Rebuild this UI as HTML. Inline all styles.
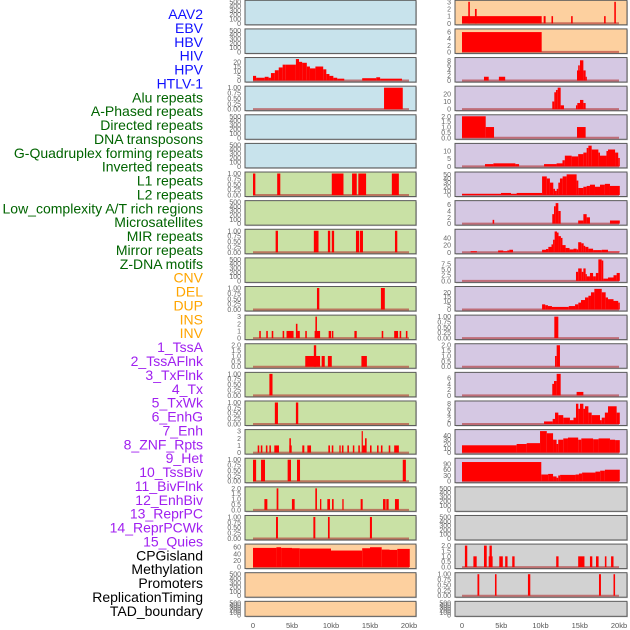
<!DOCTYPE html>
<html><head><meta charset="utf-8"><style>
body{margin:0;background:#fff;width:630px;height:630px;overflow:hidden}
svg{display:block}
</style></head><body>
<svg id="chart" width="630" height="630" viewBox="0 0 630 630" xmlns="http://www.w3.org/2000/svg"></svg>
<script>
const trackLabels=["AAV2","EBV","HBV","HIV","HPV","HTLV-1","Alu repeats","A-Phased repeats","Directed repeats","DNA transposons","G-Quadruplex forming repeats","Inverted repeats","L1 repeats","L2 repeats","Low_complexity A/T rich regions","Microsatellites","MIR repeats","Mirror repeats","Z-DNA motifs","CNV","DEL","DUP","INS","INV","1_TssA","2_TssAFlnk","3_TxFlnk","4_Tx","5_TxWk","6_EnhG","7_Enh","8_ZNF_Rpts","9_Het","10_TssBiv","11_BivFlnk","12_EnhBiv","13_ReprPC","14_ReprPCWk","15_Quies","CPGisland","Methylation","Promoters","ReplicationTiming","TAD_boundary"];
const labelGroups=[6,13,5,15,5];
const groupColors=["#1010ff","#006400","#ffa500","#a020f0","#000000"];
const xTickKb=[0,5,10,15,20];
const xTickText=["0","5kb","10kb","15kb","20kb"];
const emptyTicks=[0,100,200,300,400,500];
const t1=[0,0.25,0.5,0.75,1]; const t1L=["0.00","0.25","0.50","0.75","1.00"];
const t2=[0,0.5,1,1.5,2]; const t2L=["0.0","0.5","1.0","1.5","2.0"];
const t3=[0,1,2,3];
// bars: [startKb,endKb,value]
const L2=[[0,0.4,5],[0.4,1.5,3],[1.5,2,4],[2,2.3,3],[2.3,2.8,8],[2.8,3.3,11],[3.3,3.8,14],[3.8,4.2,17],[4.2,5.5,17],[5.5,5.9,23],[5.9,6.3,20],[6.3,6.9,19],[6.9,7.3,15],[7.3,8,13],[8,9,15],[9,9.4,12],[9.4,9.8,7],[9.8,10.3,5],[10.3,10.8,3],[10.8,11.7,2],[14,15.8,2.5],[15.8,16.3,3.5],[16.3,19.1,2]];
const L3=[[16.8,19.2,1]];
const L6=[[0,0.3,1],[3.1,3.5,1],[10.1,11.6,1],[12.7,13.3,1],[13.5,14.5,1],[17.8,18.7,1]];
const L8=[[2.9,3.2,1],[7.8,8.4,1],[9.6,9.9,1],[10.1,10.4,1],[13.2,13.6,1],[13.7,14.1,1],[18.2,18.5,1]];
const L10=[[8.2,8.5,1],[16.4,16.9,1]];
const L11=[[0.8,1.0,1],[1.7,1.9,1],[2.4,2.6,1],[3.8,4.0,1],[4.3,5.2,1],[5.5,5.7,2],[5.7,6.0,1],[6.7,6.9,1],[7.9,8.6,1],[8.0,8.2,3],[9.7,10.0,1],[10.1,10.3,1],[13.0,13.3,1],[16.5,16.7,1],[18.1,18.6,1],[18.8,19.0,1],[19.6,19.8,1]];
const L12=[[6.7,8.6,1],[7.8,8.1,2],[8.8,9.2,1],[9.6,10.1,1],[13.9,14.6,1]];
const L13=[[2.1,2.5,1]];
const L14=[[2.8,3.2,1],[5.5,5.8,1]];
const L15=[[0.6,0.8,1],[1.0,1.2,1],[1.65,1.85,1],[2.1,2.3,1],[2.73,3.33,1],[4.66,4.96,1],[4.66,4.86,2],[6.32,6.58,1],[6.97,7.44,1],[9.66,9.87,1],[10.1,10.3,1],[11.07,11.24,1],[11.4,11.6,1],[12.1,12.3,1],[12.8,12.99,1],[13.5,13.7,1],[13.93,14.06,3],[14.06,14.36,1],[14.36,14.57,2],[15.0,15.2,1],[15.9,16.1,1],[16.4,16.6,1],[17.4,17.6,1],[18.1,18.7,1]];
const L16=[[0,0.4,1],[1.03,1.54,1],[4.44,4.87,1],[5.64,6.03,1],[19.2,19.6,1]];
const L17=[[1.46,1.84,1],[3.03,3.25,2],[4.99,5.34,1],[7.99,8.2,2],[8.59,8.76,1],[9.53,9.87,1],[10.13,10.34,1],[11.45,11.62,1],[13.8,14.06,1],[16.67,17.0,1],[17.09,17.39,1],[18.2,18.7,1]];
const L18=[[2.95,3.2,1],[7.74,7.99,1],[9.61,9.83,1],[14.99,15.25,1]];
const L19=[[0,3,58],[3,3.6,60],[3.6,5,58],[5,6,57],[6,10,56],[10,14,50],[14,15,57],[15,16.5,60],[16.5,17.5,53],[17.5,18.5,52],[18.5,20.1,55]];
const R0=[[0,10.15,1],[0.8,1.0,3],[1.65,1.87,2],[10.4,10.65,1],[11.4,11.6,1],[13.9,14.1,1],[18.1,18.3,1],[19.4,19.6,3]];
const R1=[[0,10.15,6]];
const R2=[[2.8,3.4,1.5],[4.7,5.5,1.5],[14.65,15.03,4],[14.8,15.0,6],[15.03,15.46,8],[15.46,15.75,4],[15.75,15.88,1.5]];
const R3=[[11.5,11.76,10],[11.76,11.97,22],[11.97,12.19,25],[12.19,12.57,28],[12.57,12.99,5],[14.52,14.69,5],[14.69,15.03,8],[15.03,15.46,12],[15.46,15.75,8]];
const R4=[[0,3.02,2],[3.02,4.08,1],[14.65,15.75,1]];
const R5=[[2.93,4.0,1.5],[4.0,6.8,2],[6.8,7.27,1.5],[10.45,12.05,1.5],[12.05,12.8,2],[12.8,13.1,4],[13.1,13.97,7],[13.97,14.8,6.5],[14.8,15.46,8],[15.46,15.88,9],[15.88,16.1,12],[16.1,16.52,13.5],[16.52,17.37,11],[17.37,17.58,9],[17.58,18.4,7],[18.4,18.6,10],[18.6,19.5,11],[19.5,19.9,9],[19.9,20.1,5.5]];
const R6=[[0,4.97,3],[4.97,6.24,5],[6.24,6.96,3],[6.96,10.2,5],[10.2,10.8,45],[10.8,11.2,40],[11.2,11.63,30],[11.63,11.85,15],[11.85,12.06,10],[12.06,12.27,15],[12.27,12.48,30],[12.48,12.82,40],[12.82,13.33,45],[13.33,14.6,50],[14.6,14.82,35],[14.82,15.46,17],[15.46,15.88,20],[15.88,16.3,22],[16.3,16.94,25],[16.94,17.58,20],[17.58,18.2,25],[18.2,18.85,27],[18.85,20.1,22]];
const R7=[[3.9,4.1,1.2],[11.5,11.72,3],[11.72,11.93,5.5],[11.93,12.27,6.5],[12.27,12.57,4],[14.8,15.46,1],[15.46,15.88,3],[15.88,16.3,2],[18.85,20.1,1]];
const R8=[[1.1,1.9,3],[4.6,5.26,5],[5.26,5.77,3],[5.77,6.03,5],[6.03,6.5,7],[10.2,10.7,7],[10.7,11.0,9],[11.0,11.4,15],[11.4,11.6,22],[11.6,11.8,35],[11.8,12.1,58],[12.1,12.3,55],[12.3,12.6,45],[12.6,12.8,40],[12.8,13.2,20],[13.2,13.7,12],[13.7,14.2,8],[14.2,14.6,10],[14.6,14.8,8],[14.8,15.2,28],[15.2,15.5,25],[15.5,15.7,18],[15.7,16.1,15],[16.1,16.7,10],[16.7,17.8,6],[17.8,18.6,7],[18.6,20.1,2]];
const R9=[[14.52,14.8,4],[14.8,15.25,5.5],[15.25,15.46,4],[15.46,15.75,5.5],[15.75,15.88,3],[15.88,16.3,2],[16.3,16.7,3.5],[16.7,17.05,2],[17.05,17.37,3.5],[17.37,17.8,9.5],[17.8,18.0,9],[18.0,18.6,1],[18.6,19.3,1.5],[19.3,19.7,2.5],[19.7,20.1,3.5]];
const R10=[[10.2,10.6,6],[10.6,10.95,5],[10.95,11.46,4],[11.46,13.6,3],[13.6,14.4,4],[14.4,14.82,6],[14.82,15.16,8],[15.16,15.67,11],[15.67,16.1,14],[16.1,16.43,16],[16.43,16.86,20],[16.86,17.8,24],[17.8,18.3,20],[18.3,18.6,14],[18.6,19.3,12],[19.3,19.9,10],[19.9,20.1,8]];
const R11=[[11.76,12.27,1]];
const R12=[[11.85,12.06,1],[12.06,12.48,2]];
const R13=[[11.5,11.72,4],[11.72,12.06,5],[12.06,12.57,7.5],[14.6,15.46,1.2]];
const R14=[[10.45,11.55,1],[11.55,11.85,2],[11.85,12.27,4.5],[12.27,12.9,3.5],[12.9,13.75,2.5],[13.75,14.2,1.5],[14.2,14.52,2.5],[14.52,14.82,8],[14.82,15.03,6],[15.03,15.46,8],[15.46,15.67,6],[15.67,16.1,7],[16.1,16.52,4.5],[16.52,17.58,3.5],[17.58,17.8,1.5],[17.8,18.2,2.5],[18.2,18.6,4.5],[18.6,19.7,7],[19.7,20.1,4.5]];
const R15=[[0,6.96,17],[6.96,8.24,20],[8.24,9.94,22],[9.94,10.8,50],[10.8,11.6,45],[11.6,12.05,30],[12.05,12.26,20],[12.26,12.9,30],[12.9,13.5,33],[13.5,14.8,35],[14.8,15.2,30],[15.2,16.7,33],[16.7,17.4,31],[17.4,18.85,33],[18.85,19.5,30],[19.5,20.1,29]];
const R16=[[0,10.1,100],[10.1,10.97,35],[10.97,11.6,38],[11.6,12.05,25],[12.05,12.26,18],[12.26,12.5,30],[12.5,14.47,33],[14.47,14.9,35],[14.9,15.3,40],[15.3,17.0,45],[17.0,17.6,50],[17.6,18.2,55],[18.2,20.1,60]];
const R19=[[0.37,0.67,2],[1.45,1.87,1],[2.8,3.15,2],[3.4,3.9,1],[3.5,3.8,2],[4.75,5.2,1],[5.5,5.8,1],[6.4,6.7,1],[12.0,12.3,1],[14.8,15.6,1],[16.3,16.6,1],[17.07,17.4,1],[18.2,18.4,1],[18.99,19.3,1]];
const R20=[[1.97,2.2,1],[4.2,4.4,1],[8.4,8.7,1],[17.45,17.7,1],[19.3,19.5,1]];

const BLUE="#c8e3ec",GREEN="#c9e1a5",ORANGE="#fdd09f",PURPLE="#d5c8e3",GRAY="#d2d2d2";
const E=null;
const leftPanels=[
 [BLUE,E,500,emptyTicks,null],[BLUE,E,500,emptyTicks,null],
 [BLUE,L2,23,[0,5,10,15,20],null],[BLUE,L3,1,t1,t1L],[BLUE,E,500,emptyTicks,null],[BLUE,E,500,emptyTicks,null],
 [GREEN,L6,1,t1,t1L],[GREEN,E,500,emptyTicks,null],[GREEN,L8,1,t1,t1L],[GREEN,E,500,emptyTicks,null],[GREEN,L10,1,t1,t1L],
 [GREEN,L11,3,t3,null],[GREEN,L12,2,t2,t2L],[GREEN,L13,1,t1,t1L],[GREEN,L14,1,t1,t1L],[GREEN,L15,3,t3,null],
 [GREEN,L16,1,t1,t1L],[GREEN,L17,2,t2,t2L],[GREEN,L18,1,t1,t1L],
 [ORANGE,L19,65,[0,20,40,60],null],[ORANGE,E,500,emptyTicks,null],[ORANGE,E,500,emptyTicks,null]];
const rightPanels=[
 [ORANGE,R0,3,t3,null],[ORANGE,R1,6.5,[0,2,4,6],null],
 [PURPLE,R2,8.5,[0,2,4,6,8],null],[PURPLE,R3,28,[0,10,20],null],[PURPLE,R4,2,t2,t2L],[PURPLE,R5,14,[0,5,10],null],
 [PURPLE,R6,52,[0,10,20,30,40,50],null],[PURPLE,R7,6.8,[0,2,4,6],null],[PURPLE,R8,60,[0,20,40],null],
 [PURPLE,R9,9.5,[0,2.5,5,7.5],["0.0","2.5","5.0","7.5"]],[PURPLE,R10,25,[0,5,10,15,20],null],[PURPLE,R11,1,t1,t1L],
 [PURPLE,R12,2,t2,t2L],[PURPLE,R13,7.5,[0,2,4,6],null],[PURPLE,R14,8.5,[0,2,4,6,8],null],
 [PURPLE,R15,50,[0,10,20,30,40],null],[PURPLE,R16,112,[0,30,60,90],null],
 [GRAY,E,500,emptyTicks,null],[GRAY,E,500,emptyTicks,null],[GRAY,R19,2,t2,t2L],[GRAY,R20,1,t1,t1L],[GRAY,E,500,emptyTicks,null]];

const NS="http://www.w3.org/2000/svg";
const svg=document.getElementById('chart');
function mk(tag,attrs,parent){const e=document.createElementNS(NS,tag);for(const k in attrs)e.setAttribute(k,attrs[k]);(parent||svg).appendChild(e);return e;}

// labels
let li=0;
labelGroups.forEach((n,g)=>{for(let j=0;j<n;j++){const t=mk('text',{x:203,y:14+li*13.88+5,'text-anchor':'end','font-family':'Liberation Sans, sans-serif','font-size':14,fill:groupColors[g]});
t.textContent=trackLabels[li];


li++;}});

function rowTop(i){return 0.3+i*28.62;}
function rowH(i){return i===21?15:24.5;}
function drawCol(panels,px,pw,x0,kbScale,tickX,col){
 panels.forEach((p,i)=>{
  const [bg,bars,ymax,ticks,tl]=p;
  const top=rowTop(i),h=rowH(i);
  const yb=top+h-1.5,yt=top+1.5;
  const ys=v=>yb-(v/ymax)*(yb-yt);
  const xs=kb=>x0+kb*kbScale;
  const g=mk('g',{});
  
  
  mk('rect',{x:px+1,y:top+1,width:pw,height:h,fill:'#999','fill-opacity':0.5},g);
  mk('rect',{x:px,y:top,width:pw,height:h,fill:bg,stroke:'#5a5a5a','stroke-width':1},g);
  ticks.forEach((tv,k)=>{const t=mk('text',{x:tickX,y:ys(tv)+2.5,'text-anchor':'end','font-family':'Liberation Sans, sans-serif','font-size':7,fill:'#666'},g);
   t.textContent=tl?tl[k]:String(tv);
   
   });
  if(bars){
   const bl=mk('line',{x1:xs(0),x2:xs(20),y1:yb,y2:yb,stroke:'#b03030','stroke-opacity':0.6,'stroke-width':2},g);
   
   
   bars.forEach(b=>{const r=mk('rect',{x:xs(b[0]),y:ys(b[2]),width:Math.max(1.2,xs(b[1])-xs(b[0])),height:yb-ys(b[2]),fill:'#ff0000'},g);
    
    });
  }
 });
 xTickKb.forEach((kb,k)=>{const t=mk('text',{x:x0+kb*kbScale,y:628,'text-anchor':'middle','font-family':'Liberation Sans, sans-serif','font-size':7.5,fill:'#555'});
  t.textContent=xTickText[k];
  
  });
}
drawCol(leftPanels,245,171,253,7.8,241,'left');
drawCol(rightPanels,455,172,462,7.85,451,'right');
</script>
</body></html>
